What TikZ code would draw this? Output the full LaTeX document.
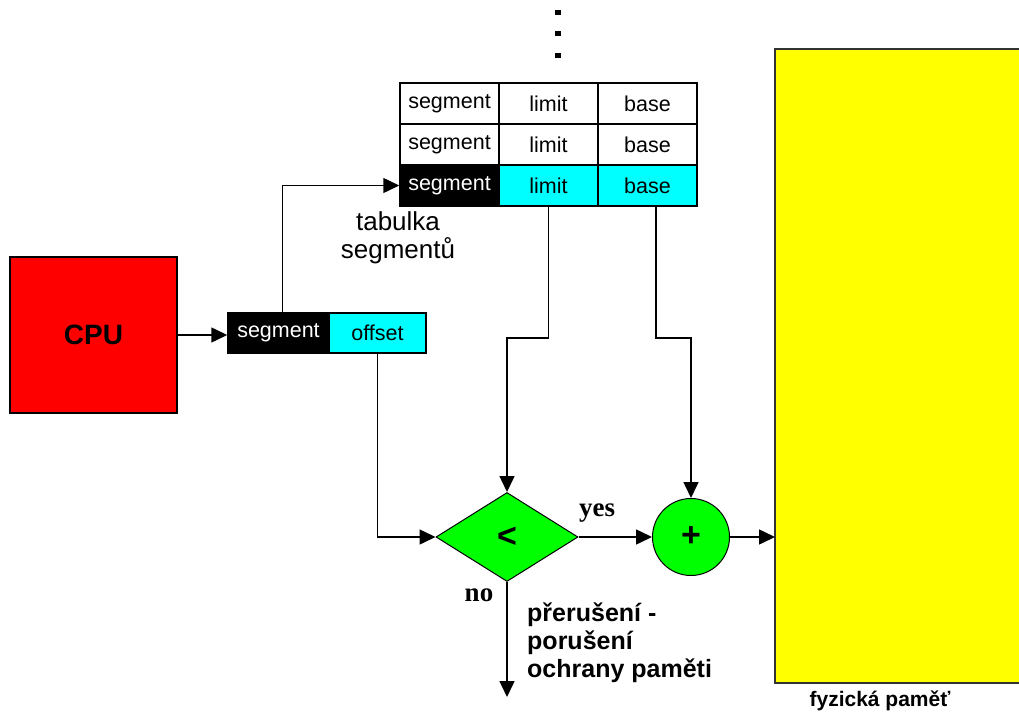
\documentclass[tikz,border=0pt]{standalone}
\usepackage{fontspec}
\setmainfont{Liberation Sans}
\newfontfamily\serifb{Liberation Serif}
\usetikzlibrary{arrows.meta,shapes.geometric}
\definecolor{cpured}{HTML}{FF0000}
\definecolor{cy}{HTML}{00FFFF}
\definecolor{gr}{HTML}{00FF00}
\definecolor{ye}{HTML}{FFFF00}
\tikzset{
  cell/.style={draw=black, line width=1.5pt, minimum width=99pt, minimum height=41pt, inner sep=0pt, font=\fontsize{21.5}{23}\selectfont},
  blackcell/.style={cell, fill=black, text=white},
  cyancell/.style={cell, fill=cy},
  arr/.style={-{Triangle[length=16pt,width=15pt]}, line width=1.5pt},
  boldlbl/.style={font=\fontsize{25}{28}\selectfont\bfseries, align=left, inner sep=0pt},
  serlbl/.style={font=\fontsize{27}{29}\selectfont\serifb\bfseries, inner sep=0pt},
  dot/.style={fill=black, minimum width=6pt, minimum height=5pt, inner sep=0pt}
}
\begin{document}
\begin{tikzpicture}[x=1pt,y=-1pt]
\useasboundingbox (0,0) rectangle (1019,722);
% memory
\node[fill=ye, minimum width=260pt, minimum height=634pt, inner sep=0pt, anchor=north west] (mem) at (775,49) {};
\draw[draw=black!80, line width=2pt] (mem.north east) -- (mem.north west) -- (mem.south west) -- (mem.south east);
\node[font=\fontsize{21}{24}\selectfont\bfseries, anchor=base] (memlbl) at (880,706) {fyzická paměť};
% CPU
\node[draw=black, line width=1.5pt, fill=cpured, minimum width=167pt, minimum height=156pt, inner sep=0pt, font=\fontsize{28}{30}\selectfont\bfseries] (cpu) at (93.5,335) {CPU};
% logical address
\node[blackcell, minimum width=101pt, minimum height=40pt] (sg) at (278.5,333) {segment};
\node[cyancell, minimum width=97pt, minimum height=40pt] (off) at (377.5,333) {offset};
% table
\node[cell, fill=white] (t1s) at (449.5,103.5) {segment};
\node[cell, fill=white] (t1l) at (548.5,103.5) {limit};
\node[cell, fill=white] (t1b) at (647.5,103.5) {base};
\node[cell, fill=white] (t2s) at (449.5,144.5) {segment};
\node[cell, fill=white] (t2l) at (548.5,144.5) {limit};
\node[cell, fill=white] (t2b) at (647.5,144.5) {base};
\node[blackcell] (t3s) at (449.5,185.5) {segment};
\node[cyancell] (t3l) at (548.5,185.5) {limit};
\node[cyancell] (t3b) at (647.5,185.5) {base};
\node[dot] (d1) at (558,13) {};
\node[dot] (d2) at (558,34) {};
\node[dot] (d3) at (558,56) {};
\node[font=\fontsize{26}{28}\selectfont, align=center, inner sep=0pt] (tablbl) at (398,238) {tabulka\\segmentů};
% compare and add
\node[diamond, draw=black, line width=1pt, fill=gr, minimum width=142pt, minimum height=89pt, inner sep=0pt, font=\fontsize{34}{36}\selectfont\bfseries] (lt) at (507,537) {<};
\node[circle, draw=black, line width=1pt, fill=gr, minimum size=77pt, inner sep=0pt, font=\fontsize{34}{36}\selectfont\bfseries] (plus) at (691,537) {+};
\node[serlbl] (yes) at (597,513) {yes};
\node[serlbl] (no) at (479,595) {no};
\node[boldlbl, anchor=north west] (err) at (527,603) {přerušení -\\porušení\\ochrany paměti};
\coordinate (noend) at (507,697);
% connectors
\draw[arr] (cpu.east) -- (cpu.east -| sg.west);
\draw[arr] ([xshift=4pt]sg.north) |- (t3s.west);
\draw[arr] (t3l.south) -- ++(0,131) -| (lt.north);
\draw[arr] ([xshift=8.5pt]t3b.south) -- ++(0,131) -| (plus.north);
\draw[arr] (off.south) |- (lt.west);
\draw[arr] (lt.east) -- (plus.west);
\draw[arr] (plus.east) -- (plus.east -| mem.west);
\draw[arr] (lt.south) -- (noend);
\end{tikzpicture}
\end{document}
